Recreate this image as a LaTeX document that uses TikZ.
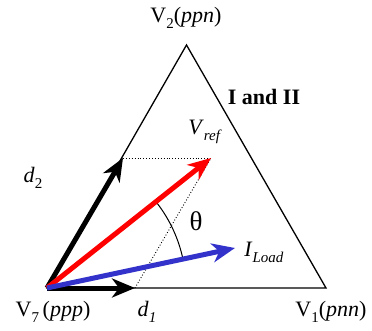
\documentclass[tikz,border=0pt]{standalone}
\usepackage{fontspec}
\setmainfont{Liberation Serif}
\usetikzlibrary{arrows.meta,calc}
\definecolor{iblue}{RGB}{51,51,204}
\definecolor{vred}{RGB}{255,0,0}
\newcommand\lowsub[1]{\raisebox{-0.28em}{\fontsize{15}{15}\selectfont #1}}
\tikzset{
  edge/.style={line width=1.3pt, line join=miter},
  vec/.style={line width=5pt, -{Stealth[length=23pt,width=19pt,inset=7pt]}},
  dots/.style={line width=0.9pt, dotted},
  lbl/.style={font=\fontsize{22}{24}\selectfont, inner sep=0pt}
}
\begin{document}
\begin{tikzpicture}[x=1pt,y=1pt]
\useasboundingbox (0,0) rectangle (372,330);
\coordinate (V7) at (47,42);
\coordinate (V1) at (326,42);
\coordinate (V2) at (186.5,285);
\coordinate (D1) at (135,42);
\coordinate (D2) at (123,172);
\coordinate (VR) at (211,172);
\coordinate (IL) at (235,82);
\draw[edge] (V7) -- (V1) -- (V2) -- cycle;
\draw[dots] (D2) -- (VR);
\draw[dots] (D1) -- (VR);
\draw[line width=1pt] ($(V7)+(38.4:139)$) arc[start angle=38.4, end angle=11.5, radius=139];
\draw[vec, black] (V7) -- (D2);
\draw[vec, black] (V7) -- (D1);
\draw[vec, vred] (V7) -- (VR);
\draw[vec, iblue] (V7) -- (IL);
\node[lbl] (l2) at (186,312) {V\lowsub{2}(\textit{ppn})};
\node[lbl, font=\fontsize{22}{24}\selectfont\bfseries] (lI) at (264,233) {I and II};
\node[lbl] (lv) at (205,198) {\textit{V}\lowsub{\textit{ref}}};
\node[lbl] (ld2) at (33,152) {\textit{d}\lowsub{2}};
\node[lbl, font=\fontsize{27}{28}\selectfont] (lt) at (196,109) {θ};
\node[lbl] (li) at (264,78) {\textit{I}\lowsub{\textit{Load}}};
\node[lbl] (l7) at (53,18) {V\lowsub{7}\,(\textit{ppp})};
\node[lbl] (ld1) at (147,18) {\textit{d}\lowsub{\textit{1}}};
\node[lbl] (l1) at (331,18) {V\lowsub{1}(\textit{pnn})};
\end{tikzpicture}
\end{document}
